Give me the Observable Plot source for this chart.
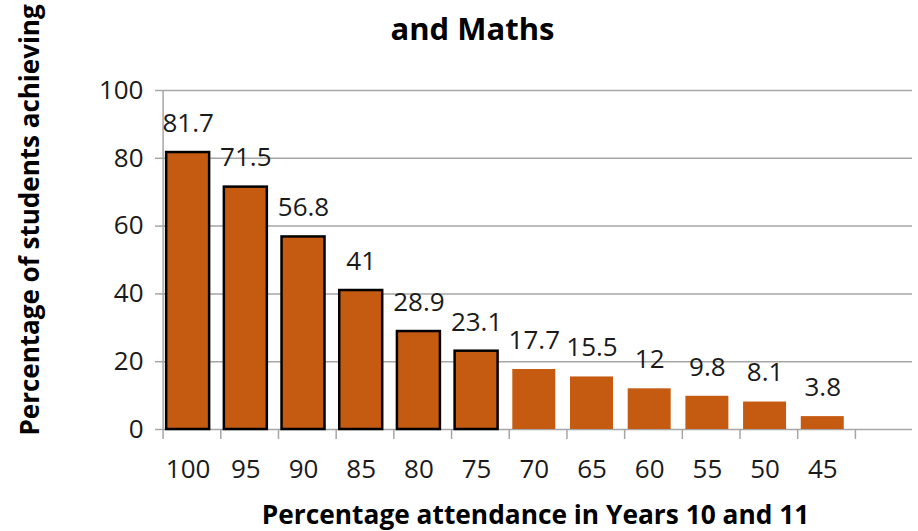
<!DOCTYPE html>
<html>
<head>
<meta charset="utf-8">
<script src="https://cdn.jsdelivr.net/npm/d3@7"></script>
<script src="https://cdn.jsdelivr.net/npm/@observablehq/plot@0.6"></script>
<style>
  html, body { margin: 0; padding: 0; background: #fff; }
  #chart { width: 918px; height: 531px; overflow: hidden; }
</style>
</head>
<body>
<div id="chart"></div>
<script>
const attendance = ["100", "95", "90", "85", "80", "75", "70", "65", "60", "55", "50", "45", ""];
const achieving = [81.7, 71.5, 56.8, 41, 28.9, 23.1, 17.7, 15.5, 12, 9.8, 8.1, 3.8];
const outlined = [true, true, true, true, true, true, false, false, false, false, false, false];
const yTicks = [0, 20, 40, 60, 80, 100];
const titleText = "and Maths";
const yLabel = "Percentage of students achieving";
const xLabel = "Percentage attendance in Years 10 and 11";

const data = achieving.map((v, i) => ({cat: attendance[i], value: v, outlined: outlined[i]}));

const W = 918, H = 531;
const mL = 162, mR = 6, mT = 90, mB = 102;
const xStart = 158.8, xEnd = 908.8;
const step = (xEnd - xStart) / attendance.length;
const tickShift = -step / 2 + (mL - xStart) + 0.6;
const font = "'Open Sans', sans-serif";
const orange = "#C55A11";
const grid = "#a6a6a6";

const plot = Plot.plot({
  width: W,
  height: H,
  marginLeft: mL,
  marginRight: mR,
  marginTop: mT,
  marginBottom: mB,
  style: {fontFamily: font, background: "#fff", overflow: "visible"},
  x: {domain: attendance, range: [xStart, xEnd], round: false, paddingInner: 0.255, paddingOuter: 0.1275, label: null},
  y: {domain: [0, 100], label: null},
  marks: [
    Plot.ruleY(yTicks, {stroke: grid, strokeWidth: 1.5}),
    Plot.ruleX([attendance[0]], {stroke: grid, strokeWidth: 1.5, dx: tickShift}),
    Plot.axisY({ticks: yTicks, tickSize: 7, stroke: grid, strokeWidth: 1.5, tickPadding: 12, fontSize: 26, fill: "#1a1a1a", label: null}),
    Plot.axisX({tickSize: 10, dx: tickShift, stroke: grid, strokeWidth: 1.5, tickFormat: () => "", label: null}),
    Plot.axisX({tickSize: 0, tickPadding: 30, fontSize: 26, fill: "#1a1a1a", label: null}),
    Plot.barY(data.filter(d => d.outlined), {x: "cat", y: "value", fill: orange, stroke: "#000", strokeWidth: 2.5, inset: 0}),
    Plot.barY(data.filter(d => !d.outlined), {x: "cat", y: "value", fill: orange, inset: 0}),
    Plot.text(data, {x: "cat", y: "value", text: d => String(d.value), dy: -29, fontSize: 26, fill: "#1a1a1a", lineAnchor: "middle"}),
    Plot.text([titleText], {frameAnchor: "top", dx: -65, dy: -60, fontSize: 31, fontWeight: "bold", fill: "#000", lineAnchor: "middle"}),
    Plot.text([xLabel], {frameAnchor: "bottom", dx: -2, dy: 86, fontSize: 26.3, fontWeight: "bold", fill: "#000", lineAnchor: "middle"}),
    Plot.text([yLabel], {frameAnchor: "bottom-left", dx: -132, dy: 6, rotate: -90, textAnchor: "start", fontSize: 26, fontWeight: "bold", fill: "#000", lineAnchor: "middle"})
  ]
});
document.getElementById("chart").appendChild(plot);
</script>
</body>
</html>
